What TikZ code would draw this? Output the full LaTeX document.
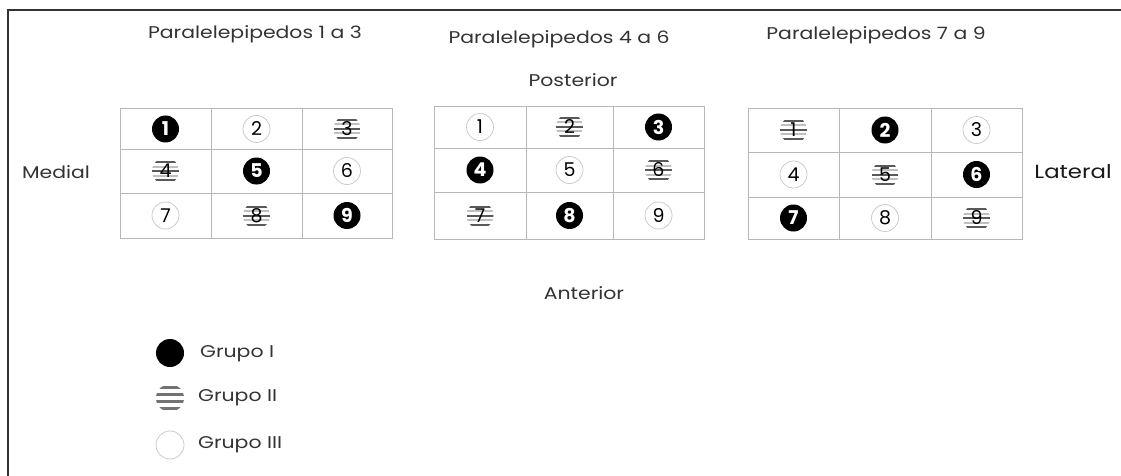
\documentclass[tikz,border=0pt]{standalone}
\usepackage{fontspec}
\setmainfont{Poppins}
\newcommand\widetxt[1]{\scalebox{1.2}[1]{#1}}
\begin{document}
\begin{tikzpicture}[x=1pt,y=-1pt,
  frame/.style={draw=black!80, line width=1.3pt},
  gridline/.style={draw=black!28, line width=0.9pt},
  lbl/.style={font=\fontsize{17}{19}\selectfont, text=black!80, inner sep=0pt},
  bigl/.style={font=\fontsize{19}{21}\selectfont, text=black!90, inner sep=0pt},
  mk/.style={circle, inner sep=0pt, minimum size=27pt, font=\fontsize{19}{21}\selectfont},
  gI/.style={mk, fill=black, text=white, font=\fontsize{19}{21}\selectfont\bfseries},
  gII/.style={mk, text=black, path picture={
      \foreach \d in {-4.5,4.5}{
        \draw[black!25, line width=2pt]
          ([yshift=\d pt]path picture bounding box.west) --
          ([yshift=\d pt]path picture bounding box.east);}
      \foreach \d in {-9,0,9}{
        \draw[black!65, line width=2pt]
          ([yshift=\d pt]path picture bounding box.west) --
          ([yshift=\d pt]path picture bounding box.east);}}},
  gIII/.style={mk, draw=black!22, line width=0.7pt, text=black},
  legI/.style={circle, inner sep=0pt, minimum size=28pt, fill=black},
  legII/.style={circle, inner sep=0pt, minimum size=28pt, path picture={
      \foreach \d in {-10.5,-3.5,3.5,10.5}{
        \draw[black!55, line width=3.6pt]
          ([yshift=\d pt]path picture bounding box.west) --
          ([yshift=\d pt]path picture bounding box.east);}}},
  legIII/.style={circle, inner sep=0pt, minimum size=28pt, draw=black!20, line width=0.8pt}
]
\useasboundingbox (0,0) rectangle (1121,476);
\fill[white] (0,0) rectangle (1121,476);
\draw[frame] (8,476) -- (8,10) -- (1121,10);

% titles and side labels
\node[lbl] (t1) at (255,34) {\widetxt{Paralelepipedos 1 a 3}};
\node[lbl] (t2) at (559,39) {\widetxt{Paralelepipedos 4 a 6}};
\node[lbl] (t3) at (876,35) {\widetxt{Paralelepipedos 7 a 9}};
\node[lbl] (post) at (573,80) {\widetxt{Posterior}};
\node[lbl] (ant) at (584,293) {\widetxt{Anterior}};
\node[lbl] (med) at (56,172) {\widetxt{Medial}};
\node[bigl] (lat) at (1073,172) {\widetxt{Lateral}};

% grid 1
\draw[gridline] (120,108) rectangle (392,238);
\draw[gridline] (211,108) -- (211,238) (302,108) -- (302,238)
                (120,149) -- (392,149) (120,193) -- (392,193);
% grid 2
\draw[gridline] (434,106) rectangle (704,239);
\draw[gridline] (526,106) -- (526,239) (613,106) -- (613,239)
                (434,148) -- (704,148) (434,192) -- (704,192);
% grid 3
\draw[gridline] (748,108) rectangle (1022,239);
\draw[gridline] (839,108) -- (839,239) (931,108) -- (931,239)
                (748,152) -- (1022,152) (748,197) -- (1022,197);

% markers grid 1
\foreach \n/\t/\cx/\cy in {1/gI/165.5/129, 2/gIII/256.5/129, 3/gII/347/129,
                           4/gII/165.5/171, 5/gI/256.5/171, 6/gIII/347/171,
                           7/gIII/165.5/215.5, 8/gII/256.5/215.5, 9/gI/347/215.5}
  \node[\t] (a\n) at (\cx,\cy) {\n};
% markers grid 2
\foreach \n/\t/\cx/\cy in {1/gIII/480/127, 2/gII/569.5/127, 3/gI/658.5/127,
                           4/gI/480/170, 5/gIII/569.5/170, 6/gII/658.5/170,
                           7/gII/480/215.5, 8/gI/569.5/215.5, 9/gIII/658.5/215.5}
  \node[\t] (b\n) at (\cx,\cy) {\n};
% markers grid 3
\foreach \n/\t/\cx/\cy in {1/gII/793.5/130, 2/gI/885/130, 3/gIII/976.5/130,
                           4/gIII/793.5/174.5, 5/gII/885/174.5, 6/gI/976.5/174.5,
                           7/gI/793.5/218, 8/gIII/885/218, 9/gII/976.5/218}
  \node[\t] (c\n) at (\cx,\cy) {\n};

% legend
\node[legI] (l1) at (170,353) {};
\node[legII] (l2) at (170,398) {};
\node[legIII] (l3) at (170,445) {};
\node[lbl, anchor=west] (l1t) at (200,354) {\widetxt{Grupo I}};
\node[lbl, anchor=west] (l2t) at (198,398) {\widetxt{Grupo II}};
\node[lbl, anchor=west] (l3t) at (198,445) {\widetxt{Grupo III}};
\end{tikzpicture}
\end{document}
